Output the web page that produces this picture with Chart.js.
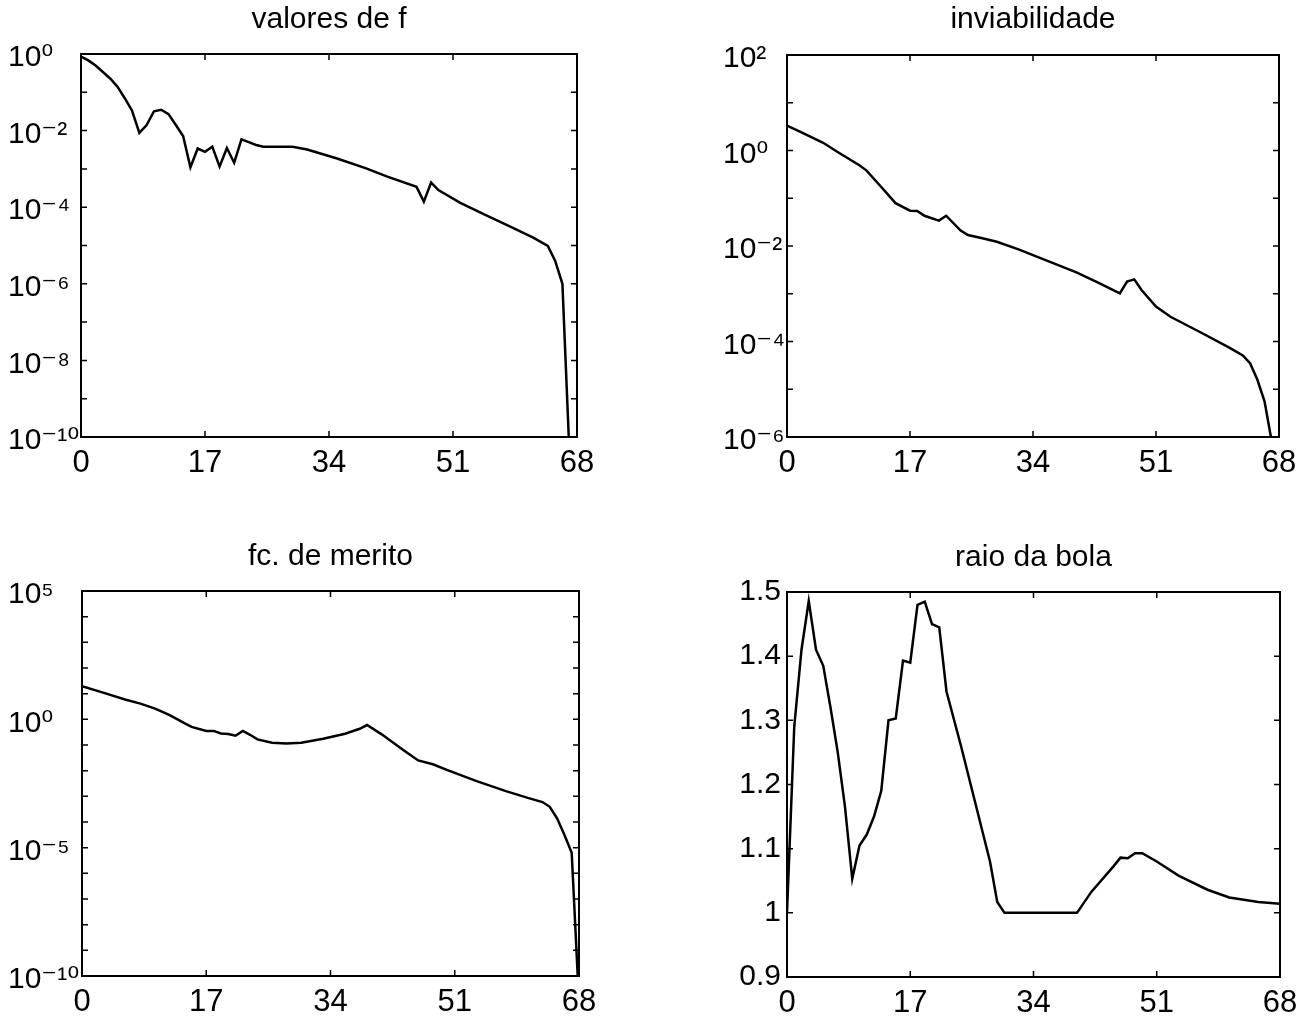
<!DOCTYPE html>
<html>
<head>
<meta charset="utf-8">
<title>valores de f / inviabilidade / fc. de merito / raio da bola</title>
<script src="https://cdn.jsdelivr.net/npm/chart.js@4.4.1/dist/chart.umd.min.js"></script>
<style>
  html, body { margin: 0; padding: 0; background: #fff; overflow: hidden; }
  #page { position: relative; width: 1312px; height: 1022px; }
  .panel { position: absolute; width: 656px; height: 511px; }
  .panel canvas { display: block; }
</style>
</head>
<body>
<div id="page">
  <div class="panel" style="left:0;top:0"><canvas id="chart-f" width="656" height="511"></canvas></div>
  <div class="panel" style="left:656px;top:0"><canvas id="chart-inv" width="656" height="511"></canvas></div>
  <div class="panel" style="left:0;top:511px"><canvas id="chart-merito" width="656" height="511"></canvas></div>
  <div class="panel" style="left:656px;top:511px"><canvas id="chart-raio" width="656" height="511"></canvas></div>
</div>
<script>
/* --- data --- */

// shared x axis (iterations)
const iterTicks = [0, 17, 34, 51, 68];

// valores de f
const fIter = [0, 1, 2, 3, 4, 5, 6, 7, 8, 9, 10, 11, 12, 13, 14, 15, 16, 17, 18, 19, 20, 21, 22, 23, 24, 25,
  29, 31, 35, 39, 42, 46, 47, 48, 49, 52, 56, 59, 62, 64, 65, 66, 67];
const fVals = [8.5e-1, 6.8e-1, 5e-1, 3.4e-1, 2.3e-1, 1.4e-1, 7e-2, 3.3e-2, 8.7e-3, 1.4e-2, 3.2e-2, 3.5e-2,
  2.7e-2, 1.4e-2, 7.2e-3, 1.1e-3, 3.4e-3, 2.8e-3, 3.8e-3, 1.15e-3, 3.5e-3, 1.45e-3, 5.9e-3, 5e-3, 4.2e-3,
  3.8e-3, 3.8e-3, 3.2e-3, 1.9e-3, 1.05e-3, 6.3e-4, 3.4e-4, 1.4e-4, 4.4e-4, 2.8e-4, 1.3e-4, 5.6e-5, 3e-5,
  1.6e-5, 9.8e-6, 4e-6, 1e-6, 2.5e-11];
const fTickExps = [0, -1, -2, -3, -4, -5, -6, -7, -8, -9, -10];
const fLabelExps = [0, -2, -4, -6, -8, -10];

// inviabilidade
const invIter = [0, 2, 5, 7, 10, 11, 13, 15, 17, 18, 19, 21, 22, 24, 25, 27, 29, 32, 36, 40, 43, 46, 47, 48,
  49, 51, 53, 57, 61, 63, 64, 65, 66, 67];
const invVals = [3.3, 2.4, 1.45, 0.93, 0.49, 0.38, 0.174, 0.079, 0.055, 0.054, 0.043, 0.034, 0.043, 0.021,
  0.017, 0.0145, 0.0123, 8.5e-3, 4.9e-3, 2.8e-3, 1.7e-3, 1.02e-3, 1.8e-3, 2e-3, 1.2e-3, 5.4e-4, 3.3e-4,
  1.6e-4, 7.6e-5, 5.1e-5, 3.5e-5, 1.6e-5, 5.6e-6, 8e-7];
const invTickExps = [2, 1, 0, -1, -2, -3, -4, -5, -6];
const invLabelExps = [2, 0, -2, -4, -6];

// fc. de merito
const merIter = [0, 3, 6, 8, 10, 12, 14, 15, 17, 18, 19, 20, 21, 22, 23, 24, 26, 28, 30, 33, 36, 38, 39, 41,
  44, 46, 48, 50, 54, 58, 61, 63, 64, 65, 66, 67, 68];
const merVals = [19.5, 10.7, 5.8, 4.1, 2.6, 1.45, 0.71, 0.51, 0.355, 0.355, 0.28, 0.27, 0.23, 0.355, 0.25,
  0.166, 0.123, 0.115, 0.123, 0.174, 0.275, 0.43, 0.6, 0.26, 0.063, 0.025, 0.0178, 0.0105, 3.9e-3, 1.6e-3,
  8.7e-4, 6e-4, 3.9e-4, 1.4e-4, 3.2e-5, 6.3e-6, 1e-11];
const merTickExps = [5, 4, 3, 2, 1, 0, -1, -2, -3, -4, -5, -6, -7, -8, -9, -10];
const merLabelExps = [5, 0, -5, -10];

// raio da bola
const raioIter = [0, 1, 2, 3, 4, 5, 6, 7, 8, 9, 10, 11, 12, 13, 14, 15, 16, 17, 18, 19, 20, 21, 22, 24, 26,
  28, 29, 30, 40, 42, 45, 46, 47, 48, 49, 51, 54, 58, 61, 65, 68];
const raioVals = [1.0, 1.29, 1.41, 1.486, 1.41, 1.385, 1.32, 1.25, 1.165, 1.053, 1.105, 1.122, 1.15, 1.19,
  1.3, 1.303, 1.393, 1.39, 1.48, 1.485, 1.45, 1.445, 1.345, 1.26, 1.17, 1.08, 1.017, 1.0, 1.0, 1.033, 1.072,
  1.086, 1.085, 1.093, 1.093, 1.08, 1.058, 1.036, 1.024, 1.017, 1.014];
const raioTicks = [0.9, 1, 1.1, 1.2, 1.3, 1.4, 1.5];
const raioTickLabels = ['0.9', '1', '1.1', '1.2', '1.3', '1.4', '1.5'];

/* --- helpers --- */

const FONT = "'Liberation Sans', Arial, 'DejaVu Sans', sans-serif";
Chart.defaults.font.family = FONT;
Chart.defaults.color = '#000';

const TITLE_SIZE = 30;
const TITLE_BOX = TITLE_SIZE * 1.2;

const SUP = { '0': '⁰', '1': '¹', '2': '²', '3': '³', '4': '⁴', '5': '⁵', '6': '⁶', '7': '⁷', '8': '⁸', '9': '⁹', '-': '⁻' };
function powLabel(e) {
  return '10' + String(e).split('').map(c => SUP[c]).join('');
}

function toPoints(xs, ys) {
  return xs.map((x, i) => ({ x, y: ys[i] }));
}

// box round the plot with inward ticks on all four sides (matlab style)
const frameTicks = {
  id: 'frameTicks',
  afterDatasetsDraw(chart) {
    const { ctx, chartArea: a, scales: { x, y } } = chart;
    const len = 6;
    ctx.save();
    ctx.strokeStyle = '#000';
    ctx.lineWidth = 1.5;
    ctx.beginPath();
    x.ticks.forEach(t => {
      const px = x.getPixelForValue(t.value);
      ctx.moveTo(px, a.bottom); ctx.lineTo(px, a.bottom - len);
      ctx.moveTo(px, a.top); ctx.lineTo(px, a.top + len);
    });
    y.ticks.forEach(t => {
      const py = y.getPixelForValue(t.value);
      ctx.moveTo(a.left, py); ctx.lineTo(a.left + len, py);
      ctx.moveTo(a.right, py); ctx.lineTo(a.right - len, py);
    });
    ctx.stroke();
    ctx.lineWidth = 2;
    ctx.strokeRect(a.left, a.top, a.right - a.left, a.bottom - a.top);
    ctx.restore();
  }
};

/* cfg: title, data, y scale, and the pixel box the plot should take inside its canvas */
function makePanel(canvasId, cfg) {
  const ctx = document.getElementById(canvasId);
  return new Chart(ctx, {
    type: 'line',
    data: {
      datasets: [{
        data: toPoints(cfg.xs, cfg.ys),
        borderColor: '#000',
        borderWidth: 2.5,
        pointRadius: 0,
        tension: 0,
        fill: false,
      }]
    },
    options: {
      responsive: false,
      animation: false,
      devicePixelRatio: 1,
      layout: { padding: { left: cfg.padLeft, right: cfg.padRight, top: 0, bottom: 0 } },
      plugins: {
        legend: { display: false },
        tooltip: { enabled: false },
        title: {
          display: true,
          text: cfg.title,
          fullSize: false,
          color: '#000',
          font: { family: FONT, size: TITLE_SIZE, weight: 'normal', lineHeight: 1.2 },
          padding: { top: cfg.titleTop, bottom: cfg.areaTop - cfg.titleTop - TITLE_BOX },
        }
      },
      scales: {
        x: {
          type: 'linear',
          min: 0,
          max: 68,
          grid: { display: false, drawTicks: false },
          border: { display: false },
          ticks: {
            autoSkip: false,
            maxRotation: 0,
            padding: 8,
            color: '#000',
            font: { family: FONT, size: 31 },
          },
          afterBuildTicks: (scale) => { scale.ticks = iterTicks.map(v => ({ value: v })); },
          afterFit: (scale) => {
            scale.height = cfg.xHeight;
            scale.paddingLeft = 0;
            scale.paddingRight = 0;
          },
        },
        y: Object.assign({
          grid: { display: false, drawTicks: false },
          border: { display: false },
          afterFit: (scale) => {
            scale.width = cfg.yWidth;
            scale.paddingTop = 0;
            scale.paddingBottom = 0;
          },
        }, cfg.y),
      }
    },
    plugins: [frameTicks]
  });
}

function logAxis(tickExps, labelExps) {
  return {
    type: 'logarithmic',
    min: Math.pow(10, tickExps[tickExps.length - 1]),
    max: Math.pow(10, tickExps[0]),
    ticks: {
      autoSkip: false,
      crossAlign: 'far',
      labelOffset: 4,
      color: '#000',
      font: { family: FONT, size: 30 },
      callback: (v) => {
        const e = Math.round(Math.log10(v));
        return labelExps.includes(e) ? powLabel(e) : '';
      }
    },
    afterBuildTicks: (scale) => { scale.ticks = tickExps.map(e => ({ value: Math.pow(10, e) })); },
  };
}

/* --- the four panels --- */

document.addEventListener('DOMContentLoaded', () => {
  makePanel('chart-f', {
    title: 'valores de f', xs: fIter, ys: fVals,
    padLeft: 8, yWidth: 73, padRight: 79, areaTop: 54, titleTop: 2, xHeight: 74,
    y: logAxis(fTickExps, fLabelExps),
  });

  makePanel('chart-inv', {
    title: 'inviabilidade', xs: invIter, ys: invVals,
    padLeft: 67, yWidth: 64, padRight: 33, areaTop: 55, titleTop: 2, xHeight: 74,
    y: logAxis(invTickExps, invLabelExps),
  });

  makePanel('chart-merito', {
    title: 'fc. de merito', xs: merIter, ys: merVals,
    padLeft: 8, yWidth: 74, padRight: 77, areaTop: 80, titleTop: 28, xHeight: 46,
    y: logAxis(merTickExps, merLabelExps),
  });

  makePanel('chart-raio', {
    title: 'raio da bola', xs: raioIter, ys: raioVals,
    padLeft: 60, yWidth: 71, padRight: 32, areaTop: 81, titleTop: 29, xHeight: 45,
    y: {
      type: 'linear',
      min: 0.9,
      max: 1.5,
      ticks: {
        autoSkip: false,
        padding: 6,
        color: '#000',
        font: { family: FONT, size: 30 },
        callback: (v) => {
          const i = raioTicks.indexOf(v);
          return i >= 0 ? raioTickLabels[i] : '';
        }
      },
      afterBuildTicks: (scale) => { scale.ticks = raioTicks.map(v => ({ value: v })); },
    },
  });
});
</script>
</body>
</html>
